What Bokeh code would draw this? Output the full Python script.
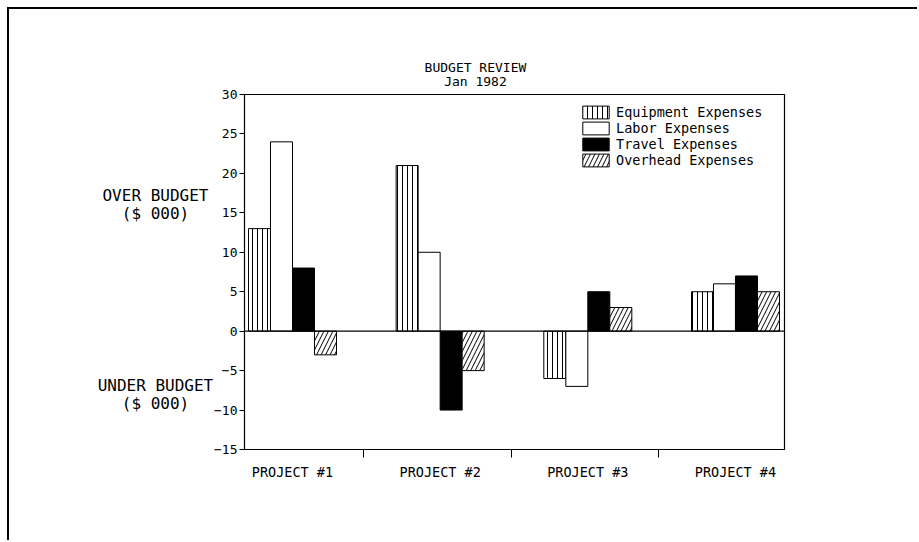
from bokeh.plotting import figure
from bokeh.models import Range1d, FixedTicker, Span, Label, Legend, LegendItem
from bokeh.embed import file_html
from bokeh.resources import INLINE

# ---- data ----
projects = ["PROJECT #1", "PROJECT #2", "PROJECT #3", "PROJECT #4"]
series_names = ["Equipment Expenses", "Labor Expenses", "Travel Expenses", "Overhead Expenses"]
equipment = [13, 21, -6, 5]
labor = [24, 10, -7, 6]
travel = [8, -10, 5, 7]
overhead = [-3, -5, 3, 5]
y_ticks = [-15, -10, -5, 0, 5, 10, 15, 20, 25, 30]
title_lines = ["BUDGET REVIEW", "Jan 1982"]
over_label = ["OVER BUDGET", "($ 000)"]
under_label = ["UNDER BUDGET", "($ 000)"]

MONO = "DejaVu Sans Mono"

groups = list(range(1, len(projects) + 1))
bar_w = 0.149

p = figure(width=910, height=533, output_backend="svg", toolbar_location=None,
           x_range=Range1d(0.675, 4.332), y_range=Range1d(-15, 30),
           min_border_left=235, min_border_right=135, min_border_top=85, min_border_bottom=93,
           background_fill_color="white", border_fill_color="white",
           outline_line_color="black", outline_line_width=1.2)
p.styles = {"border-top": "2px solid black", "border-left": "2px solid black",
            "margin-left": "7px", "margin-top": "7px"}
p.grid.visible = False

# zero line
p.add_layout(Span(location=0, dimension="width", line_color="black", line_width=1.2))

styles = [
    dict(fill_color="white", hatch_pattern="vertical_line", hatch_scale=5, hatch_weight=1, hatch_color="black"),
    dict(fill_color="white"),
    dict(fill_color="black"),
    dict(fill_color="white", hatch_pattern="right_diagonal_line", hatch_scale=9, hatch_weight=1, hatch_color="black"),
]
data_sets = [equipment, labor, travel, overhead]
items = []
for i, (name, vals, st) in enumerate(zip(series_names, data_sets, styles)):
    xs = [g + (i - 1.5) * bar_w for g in groups]
    r = p.vbar(x=xs, top=vals, bottom=0, width=bar_w, line_color="black", line_width=1, **st)
    items.append(LegendItem(label=name, renderers=[r]))

legend = Legend(items=items, location=(335, 281), padding=0, spacing=0, margin=0,
                glyph_width=33, glyph_height=16, label_height=15, label_standoff=4,
                label_text_font=MONO, label_text_font_size="13.5px", label_text_color="black",
                border_line_color=None, background_fill_alpha=0)
p.add_layout(legend)

# axes
p.yaxis.ticker = FixedTicker(ticks=y_ticks)
p.yaxis.major_tick_out = 5
p.yaxis.major_tick_in = 0
p.yaxis.minor_tick_line_color = None
p.yaxis.major_label_text_font = MONO
p.yaxis.major_label_text_font_size = "13px"
p.yaxis.major_label_standoff = 2
p.yaxis.axis_line_color = "black"
p.yaxis.major_label_text_color = "black"

p.xaxis.ticker = FixedTicker(ticks=groups, minor_ticks=[g + 0.48 for g in groups[:-1]])
p.xaxis.major_label_overrides = {g: name for g, name in zip(groups, projects)}
p.xaxis.major_tick_line_color = None
p.xaxis.minor_tick_out = 8
p.xaxis.minor_tick_in = 0
p.xaxis.minor_tick_line_color = "black"
p.xaxis.major_label_text_font = MONO
p.xaxis.major_label_text_font_size = "13.5px"
p.xaxis.major_label_text_color = "black"
p.xaxis.major_label_standoff = 6

# texts placed in side panels (annotations in the centre are clipped to the frame)
def add_text(txt, x, y, size, side):
    p.add_layout(Label(x=x, y=y, text=txt,
                       text_font=MONO, text_font_size=size,
                       text_align="center", text_baseline="middle", text_color="black"), side)

add_text(title_lines[0], 2.239, 33.45, "13px", "above")
add_text(title_lines[1], 2.239, 31.70, "13px", "above")
add_text(over_label[0], 0.072, 17.2, "16px", "left")
add_text(over_label[1], 0.072, 14.92, "16px", "left")
add_text(under_label[0], 0.072, -6.89, "16px", "below")
add_text(under_label[1], 0.072, -9.17, "16px", "below")

open("out.html", "w").write(file_html(p, INLINE))
